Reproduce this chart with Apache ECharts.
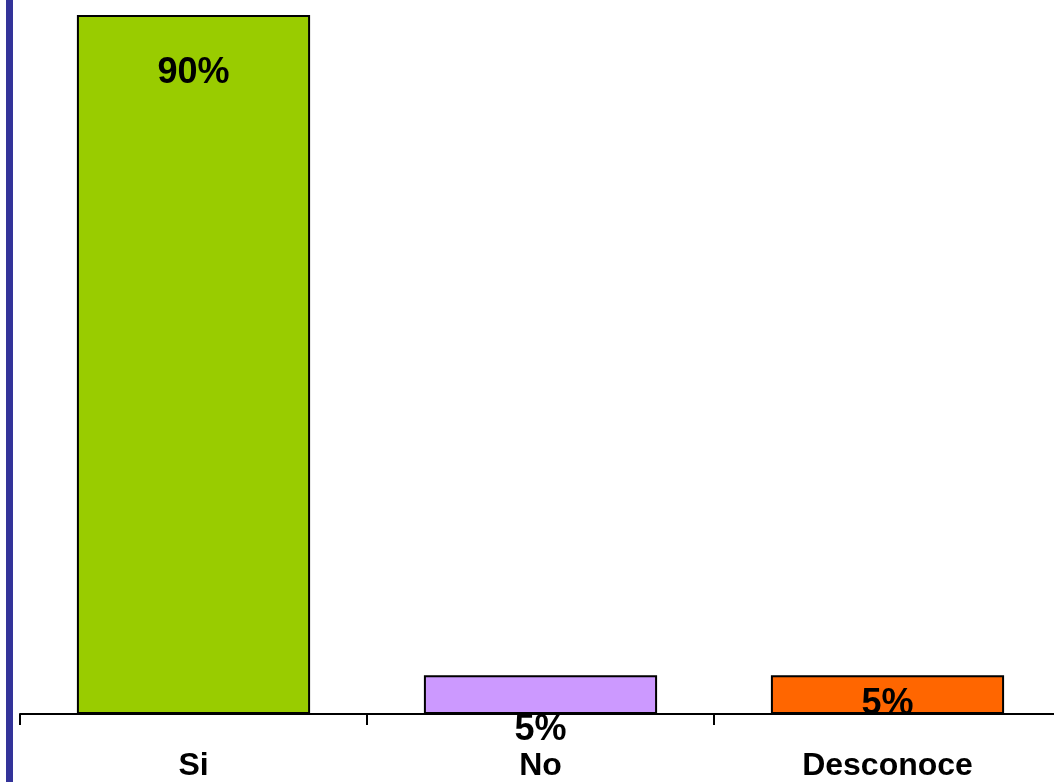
<!DOCTYPE html>
<html>
<head>
<meta charset="utf-8">
<script src="https://cdn.jsdelivr.net/npm/echarts@6/dist/echarts.min.js"></script>
<style>
  html, body { margin: 0; padding: 0; background: #fff; }
  #chart { width: 1054px; height: 782px; }
</style>
</head>
<body>
<div id="chart"></div>
<script>
// Answer categories and their shares (%)
const categories = ['Si', 'No', 'Desconoce'];
const values = [90, 5, 5];
const barColors = ['#99CC00', '#CC99FF', '#FF6600'];

const labelFont = {
  fontFamily: 'Liberation Sans, Arial, sans-serif',
  fontWeight: 'bold',
  fontSize: 36,
  color: '#000'
};

// Per-bar label placement
const labelPlacement = [
  { position: 'insideTop', distance: 40, offset: [0, 0] },
  { position: 'insideBottom', distance: 5, offset: [0, 39] },
  { position: 'insideBottom', distance: 5, offset: [0, 13] }
];

const chart = echarts.init(document.getElementById('chart'), null, { renderer: 'canvas' });

chart.setOption({
  animation: false,
  backgroundColor: '#fff',
  graphic: [{
    type: 'rect',
    shape: { x: 6, y: 0, width: 7, height: 782 },
    style: { fill: '#333399' },
    z: 0
  }],
  // the plot runs slightly past the right edge, so the last tick is cut off
  grid: { left: 20, right: -7, top: 15, bottom: 68, containLabel: false, outerBoundsMode: 'none' },
  xAxis: {
    type: 'category',
    data: categories,
    z: 5,
    axisLine: { lineStyle: { color: '#000', width: 2 } },
    axisTick: { show: true, length: 11, lineStyle: { color: '#000', width: 2 } },
    axisLabel: {
      margin: 36,
      fontFamily: 'Liberation Sans, Arial, sans-serif',
      fontWeight: 'bold',
      fontSize: 32,
      color: '#000'
    }
  },
  yAxis: {
    type: 'value',
    min: 0,
    max: 90,
    show: false,
    splitLine: { show: false }
  },
  series: [{
    type: 'bar',
    barWidth: '67.2%',
    data: values.map((v, i) => ({
      value: v,
      itemStyle: { color: barColors[i], borderColor: '#000', borderWidth: 2 },
      label: Object.assign({
        show: true,
        formatter: '{c}%'
      }, labelFont, labelPlacement[i])
    })),
    z: 2
  }]
});
</script>
</body>
</html>
